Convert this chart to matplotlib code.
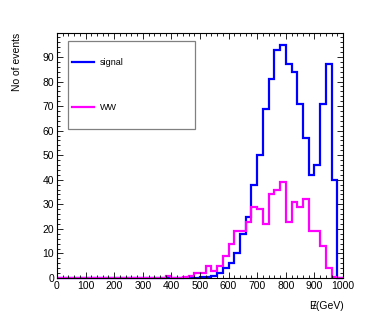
import numpy as np
import matplotlib
matplotlib.use('Agg')
import matplotlib.pyplot as plt
from matplotlib.ticker import MultipleLocator
from matplotlib.patches import Rectangle

plt.rcParams['font.family'] = ['Liberation Sans', 'DejaVu Sans']

# 50 bins of 20 GeV from 0 to 1000
bin_edges = np.arange(0, 1001, 20)

# signal histogram (blue), one value per bin
signal = [0]*25 + [0.5, 0.5, 1, 2, 4, 6, 10, 18, 25,
                   38, 50, 69, 81, 93, 95, 87, 84, 71, 57,
                   42, 46, 71, 87, 40, 0]

# WW background (magenta)
ww = [0]*19 + [1, 0, 0, 0.5, 1, 2, 2, 5, 3, 5, 9,
               14, 19, 19, 23, 29, 28, 22, 34, 36, 39,
               23, 31, 29, 32, 19, 19, 13, 4, 0.5, 0]

labels = ['signal', 'WW']
colors = ['#0000ff', '#ff00ff']

fig = plt.figure(figsize=(3.82, 3.27), dpi=100)
ax = fig.add_axes([57/382, 49/327, 286/382, 245/327])

for vals, col in zip([signal, ww], colors):
    ax.stairs(vals, bin_edges, color=col, linewidth=1.6, baseline=0, clip_on=False)

ax.set_xlim(0, 1000)
ax.set_ylim(0, 1.05*max(signal))

# ROOT-like ticks on every side
ax.xaxis.set_major_locator(MultipleLocator(100))
ax.xaxis.set_minor_locator(MultipleLocator(20))
ax.yaxis.set_major_locator(MultipleLocator(10))
ax.yaxis.set_minor_locator(MultipleLocator(2))
ax.tick_params(which='both', direction='in', top=True, right=True, labelsize=7.5, width=0.6, pad=2)
ax.tick_params(which='major', length=4)
ax.tick_params(which='minor', length=2)
for sp in ax.spines.values():
    sp.set_linewidth(0.8)

ax.set_ylabel('No of events', fontsize=7.5)
ax.yaxis.set_label_coords(-35/286, 1.0)
ax.yaxis.label.set_horizontalalignment('right')

# x title: slashed E (missing energy)
fig.text(344/382, 1 - 306/327, 'E(GeV)', ha='right', va='center', fontsize=7.5)
fig.text(315/382, 1 - 306/327, '/', ha='center', va='center', fontsize=8)

# legend box drawn like the ROOT TLegend
ax.add_patch(Rectangle((10.7/286, 1 - 96/245), 127.5/286, 88/245, transform=ax.transAxes,
                       facecolor='white', edgecolor='#808080', linewidth=0.9, zorder=4))
leg = ax.legend([plt.Line2D([], [], color=c, linewidth=1.6) for c in colors], labels,
                loc='upper left', bbox_to_anchor=(15.3/286, 0.897),
                fontsize=6.5, frameon=False, borderpad=0, borderaxespad=0,
                handlelength=2.45, labelspacing=4.0, handletextpad=0.63)
leg.set_zorder(5)

fig.savefig('out.png', dpi=100)
